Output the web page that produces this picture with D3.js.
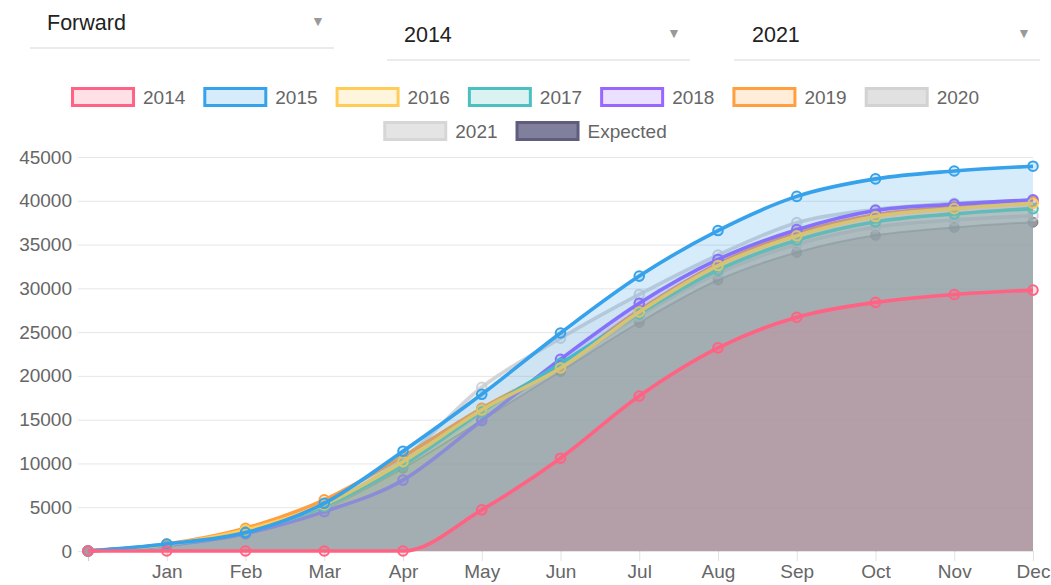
<!DOCTYPE html>
<html>
<head>
<meta charset="utf-8">
<script src="https://cdn.jsdelivr.net/npm/d3@7"></script>
<style>
  body { margin: 0; background: #fff; }
  svg { display: block; font-family: "Liberation Sans", Arial, sans-serif; }
</style>
</head>
<body>
<div id="chart"></div>
<script>
// month labels, first point is the starting zero
const months = ["", "Jan", "Feb", "Mar", "Apr", "May", "Jun", "Jul", "Aug", "Sep", "Oct", "Nov", "Dec"];
const yTicks = [0, 5000, 10000, 15000, 20000, 25000, 30000, 35000, 40000, 45000];

// series values
const s2014 = [0, 0, 0, 0, 0, 4700, 10600, 17700, 23200, 26700, 28400, 29300, 29800];
const s2015 = [0, 800, 2100, 5450, 11400, 17900, 24900, 31400, 36600, 40500, 42500, 43400, 43950];
const s2016 = [0, 750, 2400, 5300, 10200, 16100, 20900, 27300, 32600, 36000, 38200, 39100, 39700];
const s2017 = [0, 700, 2200, 5100, 9800, 15900, 21400, 27100, 32100, 35500, 37600, 38500, 39100];
const s2018 = [0, 650, 2000, 4500, 8100, 14900, 21900, 28300, 33300, 36700, 38900, 39600, 40100];
const s2019 = [0, 800, 2600, 5850, 10800, 16300, 21200, 27500, 32800, 36300, 38400, 39300, 39900];
const s2020 = [0, 750, 2300, 5300, 10500, 18700, 24300, 29300, 33800, 37500, 39000, 39700, 40000];
const s2021 = [0, 700, 2100, 5000, 9800, 15500, 21000, 26800, 31700, 35000, 37000, 37800, 38300];
const sExpected = [0, 600, 1900, 4800, 9450, 14950, 20500, 26100, 30950, 34100, 36050, 36950, 37550];

const seriesNames = ["2014", "2015", "2016", "2017", "2018", "2019", "2020", "2021", "Expected"];
const seriesValues = [s2014, s2015, s2016, s2017, s2018, s2019, s2020, s2021, sExpected];

// colours
const lineColors = ["#ff6384", "#36a2eb", "#ffcd56", "#4bc0c0", "#9966ff", "#ff9f40", "rgba(201,203,207,0.8)", "rgba(201,203,207,0.8)", "rgba(80,80,95,0.6)"];
const areaColors = ["rgba(255,99,132,0.2)", "rgba(54,162,235,0.2)", "rgba(255,205,86,0.2)", "rgba(75,192,192,0.2)", "rgba(153,102,255,0.2)", "rgba(255,159,64,0.2)", "rgba(201,203,207,0.2)", "rgba(201,203,207,0.2)", "rgba(120,90,85,0.42)"];
const legendFill = ["#ffe0e6", "#d7ecfb", "#fff5dd", "#dbf2f2", "#ebe0ff", "#ffecd9", "#e1e1e1", "#e4e4e4", "#807f9c"];
const legendStroke = ["#ff6384", "#36a2eb", "#ffcd56", "#4bc0c0", "#9966ff", "#ff9f40", "#d2d2d2", "#d6d6d6", "#5e5d7c"];

const width = 1051, height = 585;
const plotLeft = 88, plotRight = 1033, plotTop = 157, plotBottom = 551;

const svg = d3.select("#chart").append("svg")
    .attr("width", width)
    .attr("height", height);

const x = d3.scalePoint().domain(d3.range(months.length)).range([plotLeft, plotRight]);
const y = d3.scaleLinear().domain([0, 45000]).range([plotBottom, plotTop]);

// dropdowns at the top
const selects = [
    { text: "Forward", x0: 30, x1: 334, tx: 47, ty: 23, ly: 48 },
    { text: "2014", x0: 387, x1: 690, tx: 404, ty: 35, ly: 60 },
    { text: "2021", x0: 734, x1: 1040, tx: 752, ty: 35, ly: 60 }
];
selects.forEach(s => {
    svg.append("line")
        .attr("x1", s.x0).attr("x2", s.x1)
        .attr("y1", s.ly).attr("y2", s.ly)
        .attr("stroke", "#e4e4e4").attr("stroke-width", 1.5);
    svg.append("text")
        .attr("x", s.tx).attr("y", s.ty)
        .attr("dominant-baseline", "central")
        .attr("font-size", 21.5)
        .attr("fill", "#222")
        .text(s.text);
    svg.append("text")
        .attr("x", s.x1 - 16).attr("y", s.ty - 2)
        .attr("text-anchor", "middle")
        .attr("dominant-baseline", "central")
        .attr("font-size", 14)
        .attr("fill", "#999")
        .text("\u25BC");
});

// legend, two centred rows
const rows = [[0, 1, 2, 3, 4, 5, 6], [7, 8]];
const rowY = [97, 131];
rows.forEach((row, ri) => {
    const g = svg.append("g");
    let cx = 0;
    row.forEach(i => {
        g.append("rect")
            .attr("x", cx + 1.5).attr("y", rowY[ri] - 8.5)
            .attr("width", 61).attr("height", 17)
            .attr("fill", legendFill[i])
            .attr("stroke", legendStroke[i])
            .attr("stroke-width", 3);
        const t = g.append("text")
            .attr("x", cx + 72).attr("y", rowY[ri])
            .attr("dominant-baseline", "central")
            .attr("font-size", 19)
            .attr("fill", "#666")
            .text(seriesNames[i]);
        cx += 72 + t.node().getComputedTextLength() + 18;
    });
    const total = cx - 18;
    g.attr("transform", `translate(${525 - total / 2},0)`);
});

// grid + axes
const yAxis = d3.axisLeft(y).tickValues(yTicks).tickFormat(d3.format("d"))
    .tickSizeInner(-(plotRight - plotLeft)).tickSizeOuter(0).tickPadding(16);
const gy = svg.append("g").attr("transform", `translate(${plotLeft},0)`).call(yAxis);
gy.select(".domain").remove();
gy.selectAll(".tick line").attr("x1", -10).attr("stroke", "rgba(0,0,0,0.1)");
gy.selectAll(".tick text").attr("font-size", 19).attr("fill", "#666").attr("font-family", "Liberation Sans, Arial, sans-serif");

const xAxis = d3.axisBottom(x).tickFormat(i => months[i]).tickSizeInner(-(plotBottom - plotTop)).tickSizeOuter(0).tickPadding(14);
const gx = svg.append("g").attr("transform", `translate(0,${plotBottom})`).call(xAxis);
gx.select(".domain").remove();
gx.selectAll(".tick line").attr("y2", 10).attr("stroke", (d, i) => i === 0 ? "rgba(0,0,0,0.2)" : "rgba(0,0,0,0.12)");
gx.selectAll(".tick text").attr("font-size", 19).attr("fill", "#666").attr("font-family", "Liberation Sans, Arial, sans-serif");

// series, last dataset drawn first so 2014 ends on top
const area = d3.area().x((d, i) => x(i)).y0(y(0)).y1(d => y(d)).curve(d3.curveMonotoneX);
const line = d3.line().x((d, i) => x(i)).y(d => y(d)).curve(d3.curveMonotoneX);

for (let k = seriesValues.length - 1; k >= 0; k--) {
    const vals = seriesValues[k];
    const isExp = seriesNames[k] === "Expected";
    svg.append("path")
        .attr("d", area(vals))
        .attr("fill", areaColors[k]);
    svg.append("path")
        .attr("d", line(vals))
        .attr("fill", "none")
        .attr("stroke", lineColors[k])
        .attr("stroke-width", isExp ? 2 : 3.6);
    svg.append("g").selectAll("circle")
        .data(vals)
        .join("circle")
        .attr("cx", (d, i) => x(i))
        .attr("cy", d => y(d))
        .attr("r", isExp ? 5 : 4.8)
        .attr("fill", isExp ? "rgba(70,70,80,0.55)" : areaColors[k])
        .attr("stroke", lineColors[k])
        .attr("stroke-width", isExp ? 1 : 2);
}
</script>
</body>
</html>
